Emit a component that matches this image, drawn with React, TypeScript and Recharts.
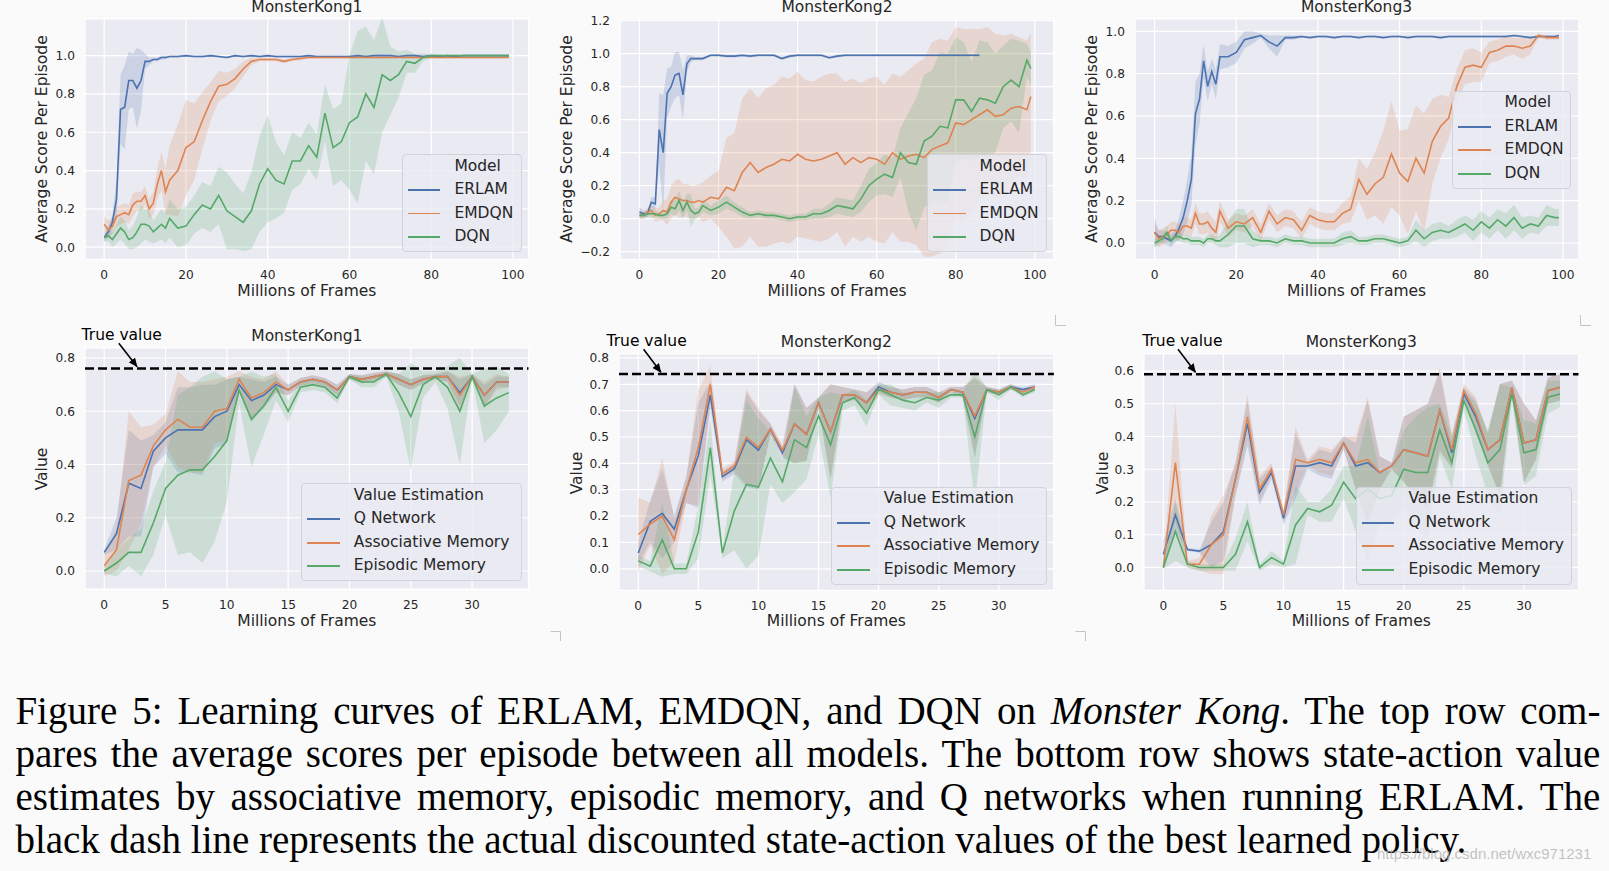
import React from 'react';
import { ComposedChart, Line, Area, XAxis, YAxis, CartesianGrid, ReferenceLine } from 'recharts';

const FONT = '"DejaVu Sans", sans-serif';
const INK = '#262626';
const BLUE = '#4c72b0';
const ORANGE = '#dd8452';
const GREEN = '#55a868';
const PLOT_BG = '#eaeaf2';
const PAGE_BG = '#fafafa';

// ---------------- Top row: frames (millions) ----------------
const topFrames = [
  0, 1, 2, 3, 4, 5, 6, 7, 8, 9, 10, 11, 12, 13, 14, 15,
  16, 18, 20, 22, 24, 26, 28, 30, 32, 34,
  36, 38, 40, 42, 44, 46, 48, 50, 52, 54,
  56, 58, 60, 62, 64, 66, 68, 70, 72, 74,
  76, 78, 80, 82, 84, 86, 88, 90, 92, 94,
  96, 98, 99,
];
const topXTicks = [0, 20, 40, 60, 80, 100];

// MonsterKong1 scores
const mk1ErlamMean = [
  0.05, 0.08, 0.13, 0.25, 0.72, 0.73, 0.87, 0.87, 0.83, 0.87, 0.97, 0.97, 0.98, 0.98, 0.99, 0.99,
  0.995, 0.995, 1.0, 0.995, 0.995, 1.0, 0.995, 0.99, 1.0, 0.995,
  1.0, 0.995, 1.0, 0.995, 0.995, 0.995, 0.995, 1.0, 0.995, 0.995,
  0.995, 0.995, 0.995, 1.0, 0.995, 1.0, 1.0, 1.0, 0.995, 1.0,
  1.0, 0.995, 1.0, 0.995, 1.0, 0.995, 1.0, 1.0, 1.0, 1.0,
  1.0, 1.0, 1.0,
];
const mk1ErlamBand = [
  0.02, 0.03, 0.04, 0.1, 0.18, 0.22, 0.15, 0.14, 0.21, 0.16, 0.04, 0.02, 0.01, 0.01, 0.01, 0.01,
  0.005, 0.005, 0.005, 0.005, 0.005, 0.005, 0.005, 0.005, 0.005, 0.005,
  0.005, 0.005, 0.005, 0.005, 0.005, 0.005, 0.005, 0.005, 0.005, 0.005,
  0.005, 0.005, 0.005, 0.005, 0.005, 0.005, 0.005, 0.005, 0.005, 0.005,
  0.005, 0.005, 0.005, 0.005, 0.005, 0.005, 0.005, 0.005, 0.005, 0.005,
  0.005, 0.005, 0.005,
];
const mk1EmdqnMean = [
  0.12, 0.09, 0.11, 0.16, 0.17, 0.18, 0.17, 0.22, 0.24, 0.24, 0.27, 0.2, 0.23, 0.33, 0.4, 0.29,
  0.35, 0.4, 0.52, 0.55, 0.66, 0.76, 0.84, 0.85, 0.88, 0.93,
  0.97, 0.98, 0.98, 0.98, 0.97, 0.98, 0.985, 0.99, 0.99, 0.99,
  0.99, 0.99, 0.99, 0.99, 0.99, 0.99, 0.99, 0.99, 0.99, 0.99,
  0.99, 0.99, 0.99, 0.99, 0.99, 0.99, 0.99, 0.99, 0.99, 0.99,
  0.99, 0.99, 0.99,
];
const mk1EmdqnBand = [
  0.04, 0.05, 0.04, 0.05, 0.05, 0.05, 0.05, 0.06, 0.05, 0.05, 0.05, 0.05, 0.06, 0.08, 0.1, 0.12,
  0.18, 0.24, 0.25, 0.2, 0.15, 0.1, 0.08, 0.06, 0.05, 0.04,
  0.02, 0.01, 0.01, 0.01, 0.01, 0.01, 0.01, 0.005, 0.005, 0.005,
  0.005, 0.005, 0.005, 0.005, 0.005, 0.005, 0.005, 0.005, 0.005, 0.005,
  0.005, 0.005, 0.005, 0.005, 0.005, 0.005, 0.005, 0.005, 0.005, 0.005,
  0.005, 0.005, 0.005,
];
const mk1DqnMean = [
  0.05, 0.06, 0.04, 0.07, 0.1, 0.08, 0.04, 0.05, 0.08, 0.12, 0.12, 0.11, 0.08, 0.1, 0.12, 0.1,
  0.15, 0.1, 0.11, 0.17, 0.22, 0.2, 0.27, 0.19, 0.16, 0.13,
  0.19, 0.33, 0.41, 0.35, 0.33, 0.45, 0.45, 0.53, 0.47, 0.7,
  0.52, 0.55, 0.65, 0.68, 0.8, 0.73, 0.9, 0.87, 0.9, 0.97,
  0.96, 0.99, 1.0, 1.0, 1.0, 1.0, 1.0, 1.0, 1.0, 1.0,
  1.0, 1.0, 1.0,
];
const mk1DqnBand = [
  0.02, 0.03, 0.04, 0.05, 0.06, 0.06, 0.05, 0.06, 0.08, 0.1, 0.08, 0.08, 0.06, 0.07, 0.08, 0.08,
  0.1, 0.1, 0.1, 0.1, 0.12, 0.12, 0.15, 0.2, 0.17, 0.15,
  0.2, 0.25, 0.28, 0.2, 0.15, 0.15, 0.12, 0.12, 0.12, 0.15,
  0.2, 0.2, 0.35, 0.45, 0.35, 0.35, 0.3, 0.18, 0.12, 0.06,
  0.05, 0.02, 0.01, 0.005, 0.005, 0.005, 0.005, 0.005, 0.005, 0.005,
  0.005, 0.005, 0.005,
];

// MonsterKong2 scores
const mk2ErlamMean = [
  0.04, 0.03, 0.03, 0.1, 0.09, 0.54, 0.4, 0.76, 0.8, 0.87, 0.88, 0.75, 0.94, 0.97, 0.97, 0.97,
  0.97, 0.99, 0.99, 0.985, 0.985, 0.99, 0.985, 0.99, 0.99, 0.99,
  0.97, 0.985, 0.99, 0.99, 0.99, 0.99, 0.975, 0.985, 0.99, 0.99,
  0.99, 0.99, 0.99, 0.99, 0.99, 0.99, 0.99, 0.99, 0.99, 0.99,
  0.99, 0.99, 0.99, 0.99, 0.99, 0.99, null, null, null, null,
  null, null, null,
];
const mk2ErlamBand = [
  0.03, 0.02, 0.02, 0.03, 0.04, 0.22, 0.35, 0.15, 0.12, 0.14, 0.13, 0.15, 0.05, 0.02, 0.01, 0.01,
  0.008, 0.008, 0.008, 0.008, 0.008, 0.008, 0.008, 0.008, 0.008, 0.008,
  0.008, 0.008, 0.008, 0.008, 0.008, 0.008, 0.008, 0.008, 0.008, 0.008,
  0.008, 0.008, 0.008, 0.008, 0.008, 0.008, 0.008, 0.008, 0.008, 0.008,
  0.008, 0.008, 0.008, 0.008, 0.008, 0.008, null, null, null, null,
  null, null, null,
];
const mk2EmdqnMean = [
  0.02, 0.02, 0.04, 0.05, 0.02, 0.03, 0.05, 0.04, 0.1, 0.13, 0.12, 0.11, 0.11, 0.1, 0.1, 0.11,
  0.1, 0.13, 0.12, 0.19, 0.17, 0.28, 0.34, 0.28, 0.31, 0.33,
  0.36, 0.35, 0.39, 0.36, 0.35, 0.36, 0.38, 0.4, 0.33, 0.37,
  0.34, 0.37, 0.36, 0.33, 0.4, 0.36, 0.38, 0.39, 0.37, 0.42,
  0.44, 0.46, 0.58, 0.57, 0.6, 0.63, 0.66, 0.62, 0.63, 0.67,
  0.68, 0.66, 0.74,
];
const mk2EmdqnBand = [
  0.02, 0.02, 0.03, 0.03, 0.04, 0.04, 0.06, 0.08, 0.1, 0.1, 0.12, 0.1, 0.1, 0.1, 0.1, 0.1,
  0.12, 0.13, 0.17, 0.3, 0.35, 0.45, 0.45, 0.45, 0.48, 0.48,
  0.5, 0.5, 0.5, 0.48, 0.48, 0.5, 0.5, 0.48, 0.5, 0.48,
  0.48, 0.48, 0.5, 0.48, 0.48, 0.5, 0.52, 0.55, 0.6, 0.65,
  0.65, 0.62, 0.58, 0.58, 0.55, 0.52, 0.5, 0.5, 0.48, 0.45,
  0.42, 0.42, 0.38,
];
const mk2DqnMean = [
  0.02, 0.02, 0.03, 0.03, 0.03, 0.02, 0.02, 0.03, 0.07, 0.06, 0.11, 0.05, 0.1, 0.05, 0.03, 0.04,
  0.08, 0.05, 0.07, 0.1, 0.07, 0.04, 0.02, 0.03, 0.02, 0.02,
  0.01, 0.0, 0.01, 0.01, 0.03, 0.03, 0.05, 0.08, 0.07, 0.06,
  0.12, 0.2, 0.24, 0.27, 0.25, 0.4, 0.34, 0.33, 0.47, 0.5,
  0.56, 0.55, 0.72, 0.72, 0.65, 0.73, 0.72, 0.7, 0.8, 0.84,
  0.8, 0.96, 0.91,
];
const mk2DqnBand = [
  0.02, 0.02, 0.02, 0.03, 0.02, 0.02, 0.02, 0.03, 0.04, 0.05, 0.06, 0.05, 0.05, 0.1, 0.03, 0.03,
  0.04, 0.03, 0.04, 0.04, 0.03, 0.03, 0.02, 0.02, 0.02, 0.02,
  0.02, 0.02, 0.02, 0.02, 0.03, 0.03, 0.04, 0.05, 0.05, 0.05,
  0.08, 0.1, 0.1, 0.12, 0.12, 0.15, 0.3, 0.4, 0.4, 0.4,
  0.45, 0.45, 0.38, 0.35, 0.3, 0.35, 0.35, 0.3, 0.25, 0.25,
  0.28, 0.1, 0.1,
];

// MonsterKong3 scores
const mk3ErlamMean = [
  0.05, 0.03, 0.03, 0.02, 0.01, 0.03, 0.07, 0.12, 0.2, 0.3, 0.61, 0.68, 0.86, 0.74, 0.81, 0.75,
  0.88, 0.88, 0.9, 0.96, 0.97, 0.98, 0.95, 0.93, 0.97, 0.97,
  0.975, 0.97, 0.975, 0.975, 0.97, 0.975, 0.975, 0.97, 0.975, 0.975,
  0.97, 0.975, 0.975, 0.97, 0.975, 0.975, 0.975, 0.97, 0.975, 0.975,
  0.975, 0.975, 0.975, 0.975, 0.975, 0.975, 0.98, 0.975, 0.97, 0.975,
  0.975, 0.975, 0.98,
];
const mk3ErlamBand = [
  0.07, 0.03, 0.03, 0.03, 0.03, 0.03, 0.05, 0.08, 0.1, 0.12, 0.15, 0.12, 0.08, 0.07, 0.06, 0.07,
  0.06, 0.05, 0.05, 0.04, 0.03, 0.01, 0.03, 0.05, 0.01, 0.01,
  0.005, 0.005, 0.005, 0.005, 0.005, 0.005, 0.005, 0.005, 0.005, 0.005,
  0.005, 0.005, 0.005, 0.005, 0.005, 0.005, 0.005, 0.005, 0.005, 0.005,
  0.005, 0.005, 0.005, 0.005, 0.005, 0.005, 0.005, 0.005, 0.005, 0.005,
  0.005, 0.005, 0.005,
];
const mk3EmdqnMean = [
  0.05, 0.02, 0.03, 0.04, 0.06, 0.06, 0.05, 0.08, 0.08, 0.07, 0.14, 0.09, 0.09, 0.1, 0.07, 0.05,
  0.15, 0.07, 0.1, 0.09, 0.12, 0.05, 0.15, 0.09, 0.12, 0.11,
  0.06, 0.13, 0.11, 0.1, 0.1, 0.14, 0.16, 0.3, 0.23, 0.28,
  0.31, 0.42, 0.33, 0.29, 0.4, 0.33, 0.48, 0.55, 0.59, 0.74,
  0.83, 0.84, 0.83, 0.9, 0.91, 0.93, 0.93, 0.92, 0.93, 0.98,
  0.97, 0.97, 0.97,
];
const mk3EmdqnBand = [
  0.04, 0.04, 0.04, 0.04, 0.04, 0.04, 0.04, 0.04, 0.04, 0.04, 0.05, 0.05, 0.05, 0.05, 0.05, 0.05,
  0.05, 0.04, 0.04, 0.04, 0.04, 0.04, 0.04, 0.04, 0.04, 0.04,
  0.04, 0.04, 0.04, 0.04, 0.04, 0.05, 0.06, 0.1, 0.12, 0.15,
  0.22, 0.25, 0.2, 0.25, 0.25, 0.28, 0.2, 0.15, 0.1, 0.08,
  0.08, 0.08, 0.07, 0.05, 0.05, 0.05, 0.04, 0.05, 0.04, 0.01,
  0.01, 0.01, 0.01,
];
const mk3DqnMean = [
  0.0, 0.01, 0.02, 0.05, 0.01, 0.03, 0.03, 0.02, 0.02, 0.01, 0.01, 0.01, 0.0, 0.02, 0.02, 0.01,
  0.01, 0.04, 0.08, 0.08, 0.02, 0.01, 0.01, 0.0, 0.02, 0.01,
  0.01, 0.0, 0.0, 0.0, 0.0, 0.02, 0.03, 0.01, 0.01, 0.02,
  0.02, 0.01, 0.0, 0.01, 0.06, 0.02, 0.05, 0.06, 0.05, 0.07,
  0.09, 0.06, 0.1, 0.07, 0.11, 0.08, 0.12, 0.07, 0.09, 0.08,
  0.13, 0.12, 0.12,
];
const mk3DqnBand = [
  0.02, 0.02, 0.02, 0.03, 0.02, 0.02, 0.02, 0.02, 0.02, 0.02, 0.02, 0.02, 0.02, 0.02, 0.02, 0.02,
  0.03, 0.06, 0.08, 0.08, 0.04, 0.02, 0.02, 0.02, 0.02, 0.02,
  0.02, 0.02, 0.02, 0.02, 0.02, 0.03, 0.03, 0.02, 0.02, 0.02,
  0.02, 0.02, 0.02, 0.02, 0.05, 0.04, 0.04, 0.04, 0.03, 0.04,
  0.04, 0.05, 0.05, 0.05, 0.05, 0.06, 0.06, 0.05, 0.04, 0.04,
  0.05, 0.04, 0.04,
];

// ---------------- Bottom row: value estimates ----------------
const valueFrames = [
  0, 1, 2, 3, 4, 5, 6, 7, 8, 9, 10, 11, 12, 13, 14, 15, 16,
  17, 18, 19, 20, 21, 22, 23, 24, 25, 26, 27, 28, 29, 30, 31, 32, 33,
];
const valueXTicks = [0, 5, 10, 15, 20, 25, 30];

const mk1QMean = [0.07, 0.14, 0.33, 0.31, 0.45, 0.5, 0.53, 0.53, 0.53, 0.58, 0.6, 0.7, 0.64, 0.66, 0.7, 0.68, 0.71,
  0.72, 0.71, 0.68, 0.73, 0.72, 0.73, 0.74, 0.72, 0.7, 0.72, 0.73, 0.73, 0.67, 0.73, 0.66, 0.71, 0.71];
const mk1QBand = [0.01, 0.06, 0.2, 0.18, 0.06, 0.06, 0.16, 0.16, 0.17, 0.12, 0.12, 0.03, 0.08, 0.05, 0.03, 0.02, 0.015,
  0.015, 0.015, 0.02, 0.01, 0.015, 0.015, 0.01, 0.02, 0.02, 0.015, 0.01, 0.02, 0.05, 0.01, 0.04, 0.02, 0.02];
const mk1AssocMean = [0.02, 0.08, 0.34, 0.36, 0.47, 0.53, 0.57, 0.54, 0.54, 0.6, 0.61, 0.72, 0.65, 0.67, 0.71, 0.68, 0.71,
  0.72, 0.71, 0.68, 0.73, 0.72, 0.73, 0.74, 0.72, 0.7, 0.72, 0.73, 0.73, 0.66, 0.73, 0.66, 0.71, 0.71];
const mk1AssocBand = [0.04, 0.08, 0.26, 0.18, 0.08, 0.06, 0.18, 0.17, 0.17, 0.12, 0.12, 0.03, 0.08, 0.05, 0.04, 0.02, 0.015,
  0.015, 0.015, 0.02, 0.01, 0.015, 0.015, 0.01, 0.02, 0.02, 0.015, 0.01, 0.02, 0.07, 0.01, 0.05, 0.03, 0.02];
const mk1EpisMean = [0.0, 0.03, 0.07, 0.07, 0.18, 0.31, 0.36, 0.38, 0.38, 0.43, 0.49, 0.68, 0.57, 0.62, 0.69, 0.6, 0.69,
  0.7, 0.69, 0.65, 0.73, 0.71, 0.71, 0.74, 0.67, 0.58, 0.7, 0.73, 0.69, 0.6, 0.73, 0.62, 0.65, 0.67];
const mk1EpisBand = [0.01, 0.05, 0.05, 0.09, 0.12, 0.1, 0.3, 0.31, 0.35, 0.32, 0.23, 0.05, 0.18, 0.11, 0.05, 0.04, 0.02,
  0.02, 0.02, 0.02, 0.01, 0.02, 0.02, 0.01, 0.07, 0.2, 0.05, 0.02, 0.08, 0.2, 0.01, 0.14, 0.12, 0.07];

const mk2QMean = [0.06, 0.18, 0.21, 0.15, 0.3, 0.43, 0.66, 0.35, 0.38, 0.49, 0.45, 0.53, 0.44, 0.55, 0.51, 0.63, 0.52,
  0.66, 0.66, 0.63, 0.69, 0.67, 0.66, 0.67, 0.67, 0.65, 0.68, 0.67, 0.57, 0.68, 0.67, 0.69, 0.68, 0.69];
const mk2QBand = [0.04, 0.08, 0.17, 0.05, 0.05, 0.2, 0.05, 0.02, 0.02, 0.18, 0.15, 0.02, 0.02, 0.15, 0.1, 0.02, 0.18,
  0.03, 0.02, 0.04, 0.02, 0.02, 0.02, 0.02, 0.02, 0.02, 0.01, 0.02, 0.15, 0.01, 0.01, 0.01, 0.01, 0.01];
const mk2AssocMean = [0.13, 0.17, 0.2, 0.11, 0.3, 0.46, 0.7, 0.36, 0.39, 0.5, 0.46, 0.53, 0.45, 0.55, 0.51, 0.63, 0.52,
  0.66, 0.66, 0.63, 0.68, 0.67, 0.66, 0.67, 0.67, 0.65, 0.68, 0.67, 0.58, 0.68, 0.67, 0.69, 0.67, 0.69];
const mk2AssocBand = [0.14, 0.08, 0.22, 0.08, 0.05, 0.22, 0.07, 0.02, 0.02, 0.18, 0.15, 0.02, 0.02, 0.15, 0.1, 0.02, 0.18,
  0.03, 0.02, 0.04, 0.02, 0.02, 0.02, 0.02, 0.02, 0.02, 0.01, 0.02, 0.15, 0.01, 0.01, 0.01, 0.01, 0.01];
const mk2EpisMean = [0.03, 0.01, 0.11, 0.0, 0.0, 0.14, 0.46, 0.06, 0.22, 0.32, 0.31, 0.42, 0.33, 0.49, 0.46, 0.58, 0.47,
  0.63, 0.65, 0.59, 0.68, 0.66, 0.64, 0.63, 0.65, 0.64, 0.66, 0.66, 0.5, 0.68, 0.66, 0.69, 0.66, 0.68];
const mk2EpisBand = [0.02, 0.02, 0.14, 0.02, 0.02, 0.1, 0.1, 0.02, 0.15, 0.32, 0.26, 0.1, 0.08, 0.2, 0.12, 0.07, 0.2,
  0.03, 0.03, 0.05, 0.02, 0.04, 0.03, 0.03, 0.02, 0.03, 0.01, 0.01, 0.25, 0.01, 0.02, 0.01, 0.01, 0.01];

const mk3QMean = [0.04, 0.16, 0.055, 0.05, 0.07, 0.11, 0.27, 0.44, 0.23, 0.29, 0.15, 0.31, 0.31, 0.32, 0.31, 0.38, 0.31,
  0.32, 0.29, 0.31, 0.36, 0.35, 0.34, 0.48, 0.35, 0.53, 0.46, 0.36, 0.39, 0.55, 0.38, 0.39, 0.54, 0.55];
const mk3QBand = [0.04, 0.05, 0.005, 0.005, 0.07, 0.09, 0.05, 0.07, 0.04, 0.02, 0.02, 0.1, 0.01, 0.04, 0.04, 0.02, 0.07,
  0.19, 0.05, 0.01, 0.1, 0.13, 0.16, 0.12, 0.05, 0.02, 0.05, 0.05, 0.17, 0.02, 0.12, 0.06, 0.04, 0.04];
const mk3AssocMean = [0.0, 0.32, 0.01, 0.01, 0.07, 0.1, 0.27, 0.46, 0.24, 0.3, 0.16, 0.33, 0.32, 0.33, 0.32, 0.38, 0.32,
  0.33, 0.29, 0.31, 0.36, 0.35, 0.34, 0.48, 0.36, 0.54, 0.47, 0.36, 0.39, 0.55, 0.38, 0.39, 0.54, 0.55];
const mk3AssocBand = [0.005, 0.18, 0.01, 0.02, 0.09, 0.12, 0.05, 0.07, 0.04, 0.02, 0.02, 0.1, 0.01, 0.04, 0.04, 0.02, 0.08,
  0.19, 0.05, 0.01, 0.1, 0.13, 0.16, 0.13, 0.05, 0.02, 0.05, 0.05, 0.17, 0.02, 0.12, 0.06, 0.04, 0.04];
const mk3EpisMean = [0.0, 0.11, 0.01, 0.0, 0.0, 0.0, 0.04, 0.14, 0.0, 0.03, 0.01, 0.13, 0.18, 0.17, 0.19, 0.26, 0.21,
  0.24, 0.21, 0.22, 0.3, 0.29, 0.29, 0.42, 0.32, 0.51, 0.42, 0.32, 0.36, 0.53, 0.35, 0.36, 0.52, 0.53];
const mk3EpisBand = [0.005, 0.09, 0.01, 0.01, 0.01, 0.01, 0.05, 0.06, 0.01, 0.02, 0.01, 0.12, 0.02, 0.03, 0.05, 0.05, 0.1,
  0.22, 0.08, 0.08, 0.12, 0.17, 0.2, 0.08, 0.08, 0.03, 0.08, 0.1, 0.2, 0.02, 0.1, 0.08, 0.05, 0.04];

const trueValues = [0.761, 0.739, 0.59];

const scoreTicks1 = [0, 0.2, 0.4, 0.6, 0.8, 1.0];
const scoreTicks2 = [-0.2, 0, 0.2, 0.4, 0.6, 0.8, 1.0, 1.2];
const scoreTicks3 = [0, 0.2, 0.4, 0.6, 0.8, 1.0];
const valueTicks1 = [0, 0.2, 0.4, 0.6, 0.8];
const valueTicks2 = [0, 0.1, 0.2, 0.3, 0.4, 0.5, 0.6, 0.7, 0.8];
const valueTicks3 = [0, 0.1, 0.2, 0.3, 0.4, 0.5, 0.6];

const modelNames = ['ERLAM', 'EMDQN', 'DQN'];
const estimatorNames = ['Q Network', 'Associative Memory', 'Episodic Memory'];
const seriesColors = [BLUE, ORANGE, GREEN];

const captionLines = [
  'Figure 5: Learning curves of ERLAM, EMDQN, and DQN on |Monster Kong|. The top row com-',
  'pares the average scores per episode between all models. The bottom row shows state-action value',
  'estimates by associative memory, episodic memory, and Q networks when running ERLAM. The',
  'black dash line represents the actual discounted state-action values of the best learned policy.',
];

type Series = { name: string; color: string; mean: (number | null)[]; band: (number | null)[] };

const mkSeries = (names: string[], means: (number | null)[][], bands: (number | null)[][]): Series[] =>
  names.map((n, i) => ({ name: n, color: seriesColors[i], mean: means[i], band: bands[i] }));

const panels = [
  {
    frames: topFrames,
    series: mkSeries(modelNames, [mk1ErlamMean, mk1EmdqnMean, mk1DqnMean], [mk1ErlamBand, mk1EmdqnBand, mk1DqnBand]),
    L: 85.1, R: 528.6, T: 19, B: 259.3,
    xDomain: [-4.7, 103.8], yDomain: [-0.063, 1.191], xTicks: topXTicks, yTicks: scoreTicks1,
    title: 'MonsterKong1', titleY: 8.3, xLabelY: 291.7, yLabel: 'Average Score Per Episode', yLabelX: 43,
    legend: { x: 401.9, y: 154, w: 119.8, title: 'Model' },
  },
  {
    frames: topFrames,
    series: mkSeries(modelNames, [mk2ErlamMean, mk2EmdqnMean, mk2DqnMean], [mk2ErlamBand, mk2EmdqnBand, mk2DqnBand]),
    L: 620.2, R: 1053.8, T: 19, B: 259.3,
    xDomain: [-4.93, 104.75], yDomain: [-0.246, 1.21], xTicks: topXTicks, yTicks: scoreTicks2,
    title: 'MonsterKong2', titleY: 8.3, xLabelY: 291.7, yLabel: 'Average Score Per Episode', yLabelX: 567.9,
    legend: { x: 927.1, y: 154, w: 119.5, title: 'Model' },
  },
  {
    frames: topFrames,
    series: mkSeries(modelNames, [mk3ErlamMean, mk3EmdqnMean, mk3DqnMean], [mk3ErlamBand, mk3EmdqnBand, mk3DqnBand]),
    L: 1134.6, R: 1578.5, T: 19, B: 259.3,
    xDomain: [-4.8, 103.9], yDomain: [-0.077, 1.058], xTicks: topXTicks, yTicks: scoreTicks3,
    title: 'MonsterKong3', titleY: 8.3, xLabelY: 291.7, yLabel: 'Average Score Per Episode', yLabelX: 1093.3,
    legend: { x: 1452.1, y: 90.7, w: 119.1, title: 'Model' },
  },
  {
    frames: valueFrames,
    series: mkSeries(estimatorNames, [mk1QMean, mk1AssocMean, mk1EpisMean], [mk1QBand, mk1AssocBand, mk1EpisBand]),
    L: 85.1, R: 528.6, T: 348.3, B: 589.3,
    xDomain: [-1.57, 34.6], yDomain: [-0.0676, 0.8376], xTicks: valueXTicks, yTicks: valueTicks1,
    title: 'MonsterKong1', titleY: 337.3, xLabelY: 621.7, yLabel: 'Value', yLabelX: 43,
    legend: { x: 301.3, y: 483.3, w: 220.4, title: 'Value Estimation' },
    trueValue: trueValues[0],
    note: { x: 81.6, y: 335.7, ax1: 118.8, ay1: 343.3, ax2: 137.1, ay2: 366.7 },
  },
  {
    frames: valueFrames,
    series: mkSeries(estimatorNames, [mk2QMean, mk2AssocMean, mk2EpisMean], [mk2QBand, mk2AssocBand, mk2EpisBand]),
    L: 618.9, R: 1053.8, T: 354.3, B: 590.7,
    xDomain: [-1.6, 34.58], yDomain: [-0.082, 0.815], xTicks: valueXTicks, yTicks: valueTicks2,
    title: 'MonsterKong2', titleY: 343.3, xLabelY: 622, yLabel: 'Value', yLabelX: 578.2,
    legend: { x: 831.3, y: 486.7, w: 215.3, title: 'Value Estimation' },
    trueValue: trueValues[1],
    note: { x: 606.5, y: 341.7, ax1: 643.6, ay1: 349.3, ax2: 660.9, ay2: 372.3 },
  },
  {
    frames: valueFrames,
    series: mkSeries(estimatorNames, [mk3QMean, mk3AssocMean, mk3EpisMean], [mk3QBand, mk3AssocBand, mk3EpisBand]),
    L: 1144.0, R: 1578.5, T: 354.3, B: 590.7,
    xDomain: [-1.61, 34.54], yDomain: [-0.07, 0.652], xTicks: valueXTicks, yTicks: valueTicks3,
    title: 'MonsterKong3', titleY: 343.3, xLabelY: 621.7, yLabel: 'Value', yLabelX: 1103.8,
    legend: { x: 1355.9, y: 486.7, w: 216, title: 'Value Estimation' },
    trueValue: trueValues[2],
    note: { x: 1142.3, y: 341.7, ax1: 1178, ay1: 349.3, ax2: 1195.5, ay2: 372.3 },
  },
];

const fmtY = (v: number) => (v < 0 ? '\u2212' + Math.abs(v).toFixed(1) : v.toFixed(1));
const tickStyle = { fontSize: 12.2, fill: INK, fontFamily: FONT };

function Txt(props: { x: number; y: number; anchor?: 'start' | 'middle'; size?: number; rotate?: boolean; color?: string; children: any }) {
  const { x, y, anchor = 'middle', size = 15.5, rotate = false, color = INK, children } = props;
  const tx = anchor === 'middle' ? '-50%' : '0';
  return (
    <div
      style={{
        position: 'absolute', left: x, top: y, fontFamily: FONT, fontSize: size, lineHeight: 1,
        color, whiteSpace: 'nowrap',
        transform: `translate(${tx}, -50%)${rotate ? ' rotate(-90deg)' : ''}`,
        transformOrigin: rotate ? 'center' : undefined,
      }}
    >
      {children}
    </div>
  );
}

function LegendBox({ x, y, w, title, series }: { x: number; y: number; w: number; title: string; series: Series[] }) {
  return (
    <div
      style={{
        position: 'absolute', left: x, top: y, width: w, height: 98, boxSizing: 'border-box',
        background: 'rgba(234,234,242,0.8)', border: '1px solid #d2d2da', borderRadius: 4,
      }}
    >
      <Txt x={51.5} y={11.5} anchor="start">{title}</Txt>
      {series.map((s, i) => (
        <React.Fragment key={s.name}>
          <div style={{ position: 'absolute', left: 5, top: 35 + 23.5 * i - 0.8, width: 32.5, height: 1.7, background: s.color }} />
          <Txt x={51.5} y={35 + 23.5 * i} anchor="start">{s.name}</Txt>
        </React.Fragment>
      ))}
    </div>
  );
}

function Panel({ spec }: { spec: any }) {
  const { L, R, T, B } = spec;
  const yAxisW = 70;
  const xAxisH = 40;
  const rightPad = 4;
  const topPad = 4;
  const width = R - L + yAxisW + rightPad;
  const height = B - T + xAxisH + topPad;
  const data = spec.frames.map((f: number, i: number) => {
    const row: any = { x: f };
    spec.series.forEach((s: Series, k: number) => {
      const m = s.mean[i];
      const b = s.band[i];
      row['m' + k] = m == null ? null : m;
      row['b' + k] = m == null || b == null ? null : [m - b, m + b];
    });
    return row;
  });
  const items: any[] = [];
  spec.series.forEach((s: Series, k: number) => {
    items.push(
      <Line key={'l' + k} type="linear" dataKey={'m' + k} stroke={s.color} strokeWidth={1.6} dot={false}
        activeDot={false} isAnimationActive={false} connectNulls={false} />
    );
    items.push(
      <Area key={'a' + k} type="linear" dataKey={'b' + k} stroke="none" fill={s.color} fillOpacity={0.2}
        activeDot={false} isAnimationActive={false} connectNulls={false} />
    );
  });
  return (
    <div style={{ position: 'absolute', left: L - yAxisW, top: T - topPad }}>
      <ComposedChart width={width} height={height} data={data} margin={{ top: topPad, right: rightPad, bottom: 0, left: 0 }}>
        <CartesianGrid fill={PLOT_BG} fillOpacity={1} stroke="#ffffff" strokeWidth={1.2} />
        <XAxis dataKey="x" type="number" domain={spec.xDomain} ticks={spec.xTicks} allowDataOverflow interval={0}
          axisLine={false} tickLine={false} tickSize={0} tickMargin={11} height={xAxisH} tick={tickStyle} />
        <YAxis type="number" domain={spec.yDomain} ticks={spec.yTicks} allowDataOverflow interval={0}
          axisLine={false} tickLine={false} tickSize={0} tickMargin={10} width={yAxisW} tick={tickStyle}
          tickFormatter={fmtY} />
        {items}
        {spec.trueValue != null && (
          <ReferenceLine y={spec.trueValue} stroke="#000000" strokeWidth={2.5} strokeDasharray="9 4" ifOverflow="visible" />
        )}
      </ComposedChart>
    </div>
  );
}

export default function App() {
  return (
    <div style={{ position: 'absolute', left: 0, top: 0, width: 1609, height: 871, background: PAGE_BG, overflow: 'hidden' }}>
      {panels.map((p, i) => (
        <React.Fragment key={i}>
          <Panel spec={p} />
          <Txt x={(p.L + p.R) / 2} y={p.titleY}>{p.title}</Txt>
          <Txt x={(p.L + p.R) / 2} y={p.xLabelY}>Millions of Frames</Txt>
          <Txt x={p.yLabelX} y={(p.T + p.B) / 2} rotate>{p.yLabel}</Txt>
          <LegendBox x={p.legend.x} y={p.legend.y} w={p.legend.w} title={p.legend.title} series={p.series} />
          {(p as any).note && (
            <Txt x={(p as any).note.x} y={(p as any).note.y} anchor="start" color="#000">True value</Txt>
          )}
        </React.Fragment>
      ))}
      <svg width={1609} height={871} style={{ position: 'absolute', left: 0, top: 0, pointerEvents: 'none' }}>
        <defs>
          <marker id="ah" markerWidth="9" markerHeight="8" refX="8.5" refY="4" orient="auto" markerUnits="userSpaceOnUse">
            <path d="M0,0 L9,4 L0,8 z" fill="#000" />
          </marker>
        </defs>
        {panels.map((p: any, i) =>
          p.note ? (
            <line key={i} x1={p.note.ax1} y1={p.note.ay1} x2={p.note.ax2} y2={p.note.ay2} stroke="#000" strokeWidth={1.6} markerEnd="url(#ah)" />
          ) : null
        )}
        <g stroke="#c4c4c4" strokeWidth={1} fill="none">
          <polyline points="1055.5,315 1055.5,325.5 1066,325.5" />
          <polyline points="1580.5,315 1580.5,325.5 1591,325.5" />
          <polyline points="550.5,631.5 560.5,631.5 560.5,641" />
          <polyline points="1075.5,631.5 1085.5,631.5 1085.5,641" />
        </g>
      </svg>
      {captionLines.map((line, i) => {
        const last = i === captionLines.length - 1;
        const parts = line.split('|');
        return (
          <div
            key={i}
            style={{
              position: 'absolute', left: 15.4, top: 724 + 43 * i - 34.65, width: 1585,
              fontFamily: '"Liberation Serif", "Times New Roman", serif', fontSize: 39, lineHeight: '43px',
              color: '#000', textAlign: last ? 'left' : 'justify', textAlignLast: last ? 'left' : 'justify',
            } as any}
          >
            {parts.map((t, j) => (j % 2 === 1 ? <i key={j}>{t}</i> : <span key={j}>{t}</span>))}
          </div>
        );
      })}
      <div
        style={{
          position: 'absolute', left: 1377, top: 845, fontFamily: '"Liberation Sans", sans-serif', fontSize: 15,
          color: 'rgba(175,175,175,0.75)', whiteSpace: 'nowrap',
        }}
      >
        https://blog.csdn.net/wxc971231
      </div>
    </div>
  );
}
